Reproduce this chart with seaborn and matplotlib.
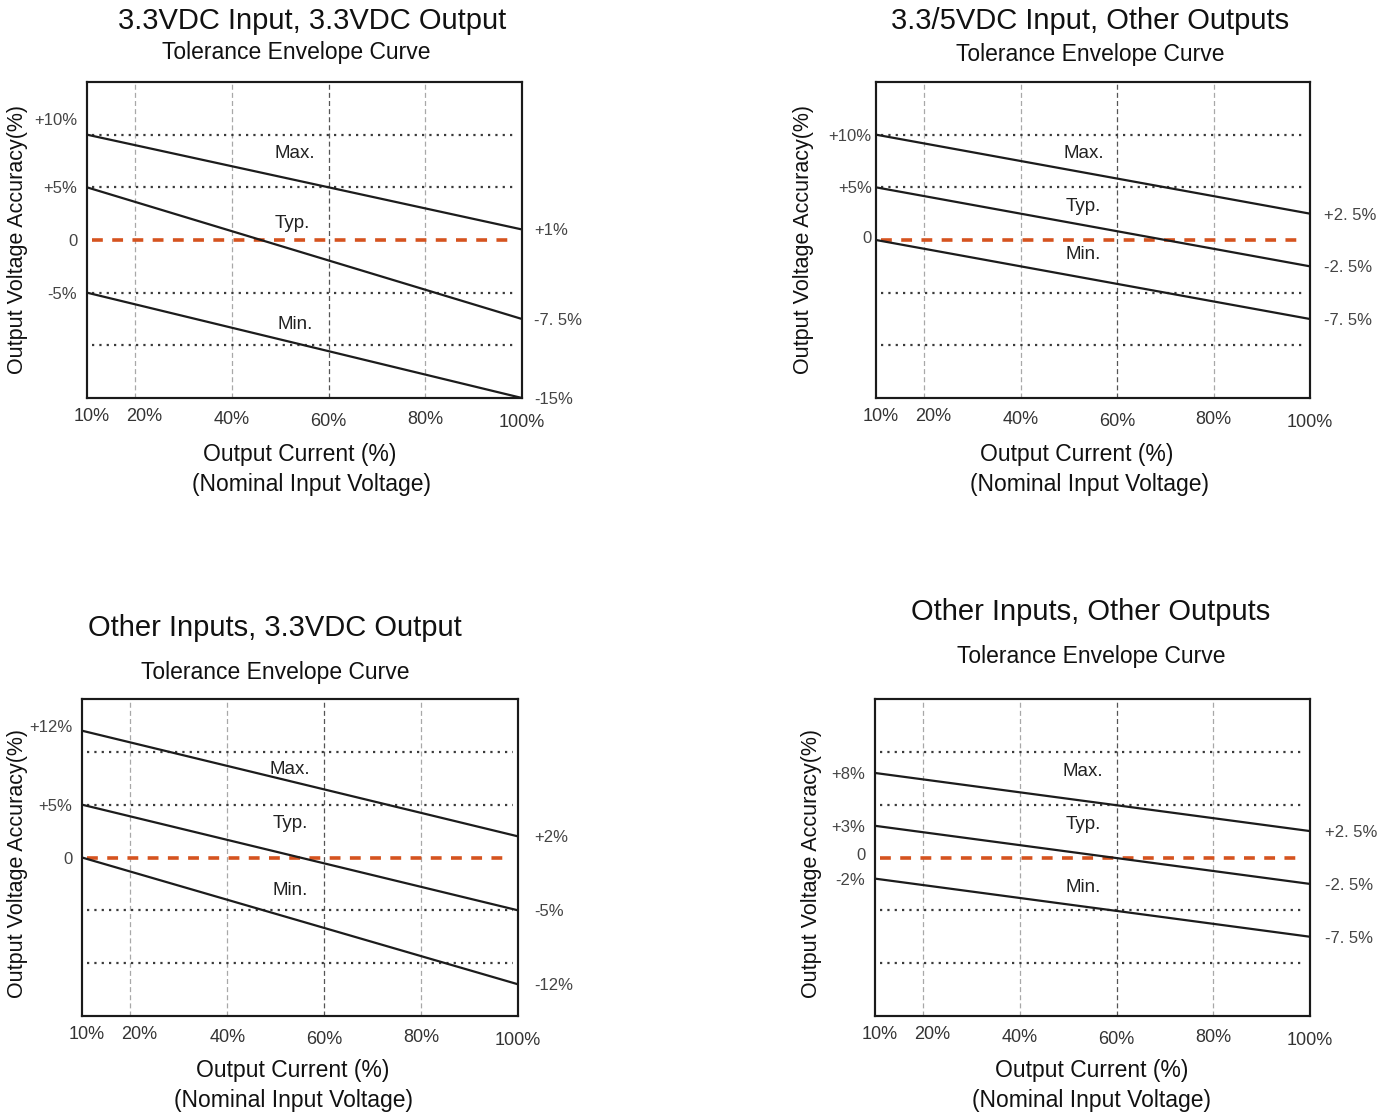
import matplotlib
matplotlib.use("Agg")
import matplotlib.pyplot as plt
import matplotlib.transforms as mtransforms
import seaborn as sns
import pandas as pd

# ---------------- data ----------------
load_pct = [10, 100]                      # output current (%) at line ends
x_ticks = [10, 20, 40, 60, 80, 100]
x_tick_labels = ["10%", "20%", "40%", "60%", "80%", "100%"]
grid_x = [20, 40, 60, 80]
ref_levels = [10, 5, -5, -10]
curve_names = ["Max.", "Typ.", "Min."]

titles = ["3.3VDC Input, 3.3VDC Output", "3.3/5VDC Input, Other Outputs",
          "Other Inputs, 3.3VDC Output", "Other Inputs, Other Outputs"]
subtitle = "Tolerance Envelope Curve"
xlabel1 = "Output Current (%)"
xlabel2 = "(Nominal Input Voltage)"
ylabel = "Output Voltage Accuracy(%)"

p1_max = [10, 1]
p1_typ = [5, -7.5]
p1_min = [-5, -15]
p2_max = [10, 2.5]
p2_typ = [5, -2.5]
p2_min = [0, -7.5]
p3_max = [12, 2]
p3_typ = [5, -5]
p3_min = [0, -12]
p4_max = [8, 2.5]
p4_typ = [3, -2.5]
p4_min = [-2, -7.5]

p1_left_vals = [10, 5, 0, -5]
p1_left_labels = ["+10%", "+5%", "0", "-5%"]
p1_right_vals = [1, -7.5, -15]
p1_right_labels = ["+1%", "-7. 5%", "-15%"]
p2_left_vals = [10, 5, 0]
p2_left_labels = ["+10%", "+5%", "0"]
p2_right_vals = [2.5, -2.5, -7.5]
p2_right_labels = ["+2. 5%", "-2. 5%", "-7. 5%"]
p3_left_vals = [12, 5, 0]
p3_left_labels = ["+12%", "+5%", "0"]
p3_right_vals = [2, -5, -12]
p3_right_labels = ["+2%", "-5%", "-12%"]
p4_left_vals = [8, 3, 0, -2]
p4_left_labels = ["+8%", "+3%", "0", "-2%"]
p4_right_vals = [2.5, -2.5, -7.5]
p4_right_labels = ["+2. 5%", "-2. 5%", "-7. 5%"]

series = [(p1_max, p1_typ, p1_min), (p2_max, p2_typ, p2_min),
          (p3_max, p3_typ, p3_min), (p4_max, p4_typ, p4_min)]
left_ticks = [(p1_left_vals, p1_left_labels), (p2_left_vals, p2_left_labels),
              (p3_left_vals, p3_left_labels), (p4_left_vals, p4_left_labels)]
right_ticks = [(p1_right_vals, p1_right_labels), (p2_right_vals, p2_right_labels),
               (p3_right_vals, p3_right_labels), (p4_right_vals, p4_right_labels)]

# ---------------- layout (pixels) ----------------
W, H = 1387, 1117
boxes = [(87, 82, 522, 398), (876, 82, 1310, 398),
         (82, 699, 518, 1016), (875, 699, 1310, 1016)]
title_pos = [(312, 21), (1090, 21), (275, 628), (1091, 612)]
sub_pos = [(296, 53), (1090, 54), (275, 672), (1091, 656)]
xl1_pos = [(300, 455), (1077, 455), (293, 1071), (1092, 1071)]
xl2_pos = [(312, 485), (1090, 485), (293, 1101), (1092, 1101)]
yl_pos = [(18, 240), (803, 240), (18, 864), (811, 864)]
curve_label_pos = [[(53, 8.2), (52.5, 1.6), (53, -8.0)],
                   [(53, 8.2), (53, 3.2), (53, -1.4)],
                   [(53, 8.3), (53, 3.25), (53, -3.1)],
                   [(53, 8.15), (53, 3.1), (53, -2.8)]]
left_pad = [7, 3, 7, 7]
right_pad = [9, 10, 12, 11]
# small pixel nudges of x tick labels (right, up)
xtick_nudge = [(5, 0), (9, 0), (0, -3), (0, -5), (0, -3), (0, -6)]
# pixel nudges (up) for the left labels
left_nudge = [[16, 0, 0, 0], [0, 0, 3], [5, 0, 0], [0, 0, 3, 0]]

sns.set_theme(style="white")
plt.rcParams["font.family"] = ["Liberation Sans", "DejaVu Sans"]
narrow = ["Liberation Sans Narrow", "Liberation Sans", "DejaVu Sans"]

fig = plt.figure(figsize=(W / 100, H / 100), dpi=100)
fig.patch.set_facecolor("white")

def fx(x):
    return x / W

def fy(y):
    return 1 - y / H

def shift(txt, dx, dy):
    if dx or dy:
        txt.set_transform(txt.get_transform() +
                          mtransforms.ScaledTranslation(dx / 100, dy / 100,
                                                        fig.dpi_scale_trans))

for i in range(4):
    x0, y0, x1, y1 = boxes[i]
    ax = fig.add_axes([fx(x0), fy(y1), (x1 - x0) / W, (y1 - y0) / H])
    ax.set_xlim(10, 100)
    ax.set_ylim(-15, 15)

    for g in grid_x:
        ax.axvline(g, color="#555555" if g == 60 else "#a8a8a8",
                   lw=0.9, ls=(0, (4, 2.5)), zorder=1)
    for r in ref_levels:
        ax.axhline(r, color="#3a3a3a", lw=1.6, ls=(0, (1, 2.3)),
                   xmin=0.012, xmax=0.988, zorder=2)
    ax.axhline(0, color="#d5531f", lw=2.6, ls=(0, (3, 2.6)),
               xmin=0.012, xmax=0.985, zorder=2)

    mx, ty, mn = series[i]
    df = pd.DataFrame({
        "x": load_pct * 3,
        "y": list(mx) + list(ty) + list(mn),
        "curve": [curve_names[0]] * 2 + [curve_names[1]] * 2 + [curve_names[2]] * 2,
    })
    sns.lineplot(data=df, x="x", y="y", hue="curve",
                 palette=["#1c1c1c"] * 3, legend=False, lw=1.6,
                 ax=ax, zorder=3)

    for name, (cx, cy) in zip(curve_names, curve_label_pos[i]):
        ax.text(cx, cy, name, ha="center", va="center", fontsize=13.5,
                color="#222222", family=narrow, zorder=4)

    ax.set_xlabel("")
    ax.set_ylabel("")
    ax.set_xticks(x_ticks, x_tick_labels)
    ax.tick_params(axis="x", length=0, pad=7.5, labelsize=13, labelcolor="#333333")
    lv, ll = left_ticks[i]
    ax.set_yticks(lv, ll)
    ax.tick_params(axis="y", length=0, pad=left_pad[i], labelsize=12,
                   labelcolor="#444444")
    for t, (dx, dy) in zip(ax.get_xticklabels(), xtick_nudge):
        shift(t, dx, dy)
    for t, dy in zip(ax.get_yticklabels(), left_nudge[i]):
        t.set_family(narrow)
        shift(t, 0, dy)

    tw = ax.twinx()
    tw.set_ylim(-15, 15)
    rv, rl = right_ticks[i]
    tw.set_yticks(rv, rl)
    tw.tick_params(axis="y", length=0, pad=right_pad[i], labelsize=12,
                   labelcolor="#444444")
    for t in tw.get_yticklabels():
        t.set_family(narrow)
    tw.grid(False)

    for a in (ax, tw):
        for s in a.spines.values():
            s.set_color("#1a1a1a")
            s.set_linewidth(1.5)
            s.set_visible(True)

    fig.text(fx(title_pos[i][0]), fy(title_pos[i][1]), titles[i],
             ha="center", va="center", fontsize=21, color="#111111")
    fig.text(fx(sub_pos[i][0]), fy(sub_pos[i][1]), subtitle,
             ha="center", va="center", fontsize=16.5, color="#111111")
    fig.text(fx(xl1_pos[i][0]), fy(xl1_pos[i][1]), xlabel1,
             ha="center", va="center", fontsize=16.5, color="#111111")
    fig.text(fx(xl2_pos[i][0]), fy(xl2_pos[i][1]), xlabel2,
             ha="center", va="center", fontsize=16.5, color="#111111")
    fig.text(fx(yl_pos[i][0]), fy(yl_pos[i][1]), ylabel, rotation=90,
             ha="center", va="center", fontsize=15.5, color="#111111")

fig.savefig("out.png", dpi=100, facecolor="white")
